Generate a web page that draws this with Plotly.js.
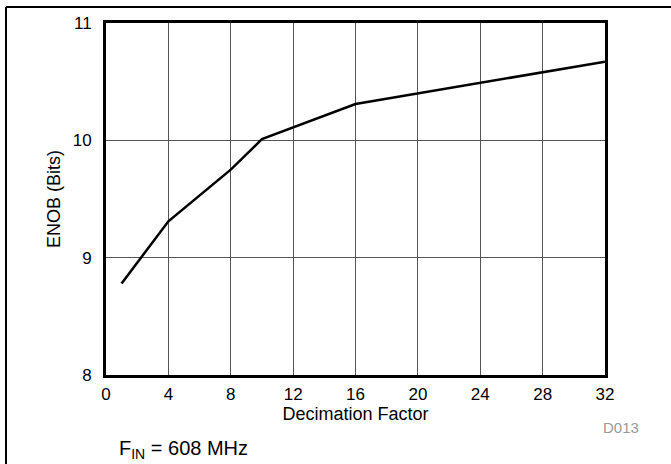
<!DOCTYPE html>
<html>
<head>
<meta charset="utf-8">
<script src="https://cdn.plot.ly/plotly-3.0.1.min.js"></script>
<style>html,body{margin:0;padding:0;background:#fff;}#chart{width:671px;height:464px;}</style>
</head>
<body>
<div id="chart"></div>
<script>
const decimation = [1, 4, 8, 10, 16, 32];
const enob = [8.78, 9.31, 9.75, 10.01, 10.31, 10.67];
const xTicks = [0, 4, 8, 12, 16, 20, 24, 28, 32];
const yTicks = [8, 9, 10, 11];

const L = 106, R = 605, T = 23, B = 375, W = 671, H = 464;
const px = v => (v - L) / (R - L);
const py = v => (B - v) / (B - T);

const trace = {
  x: decimation, y: enob, type: 'scatter', mode: 'lines',
  line: {color: '#000', width: 2.5}, hoverinfo: 'skip'
};

const layout = {
  width: W, height: H,
  margin: {l: L, r: W - R, t: T, b: H - B, pad: 0},
  paper_bgcolor: '#fff', plot_bgcolor: '#fff',
  showlegend: false,
  font: {family: 'Liberation Sans, Arial, sans-serif', color: '#000', size: 17},
  xaxis: {
    range: [0, 32], tickvals: xTicks, ticktext: xTicks.map(String),
    showgrid: true, gridcolor: '#555', gridwidth: 1,
    zeroline: false, showline: true, linecolor: '#000', linewidth: 3, mirror: true,
    ticks: '', ticklen: 0, tickfont: {size: 17}, ticklabelstandoff: 2,
    title: {text: 'Decimation Factor', font: {size: 18}, standoff: 0}
  },
  yaxis: {
    range: [8, 11], tickvals: yTicks, ticktext: yTicks.map(String),
    showgrid: true, gridcolor: '#555', gridwidth: 1,
    zeroline: false, showline: true, linecolor: '#000', linewidth: 3, mirror: true,
    ticks: '', ticklen: 0, tickfont: {size: 17}, ticklabelstandoff: 8,
    title: {text: 'ENOB (Bits)', font: {size: 18}, standoff: 8}
  },
  shapes: [
    {type: 'line', xref: 'paper', yref: 'paper', x0: px(6), x1: px(W + 5), y0: py(7), y1: py(7), line: {color: '#000', width: 2}},
    {type: 'line', xref: 'paper', yref: 'paper', x0: px(6), x1: px(6), y0: py(7), y1: py(H + 5), line: {color: '#000', width: 2}}
  ],
  annotations: [
    {text: 'D013', xref: 'paper', yref: 'paper', x: px(641), y: py(427), xanchor: 'right', yanchor: 'middle', showarrow: false, font: {size: 15, color: '#999'}},
    {text: 'F<sub>IN</sub> = 608 MHz', xref: 'paper', yref: 'paper', x: px(117), y: py(449), xanchor: 'left', yanchor: 'middle', showarrow: false, font: {size: 20, color: '#000'}}
  ]
};

Plotly.newPlot('chart', [trace], layout, {displayModeBar: false, staticPlot: true});
</script>
</body>
</html>
